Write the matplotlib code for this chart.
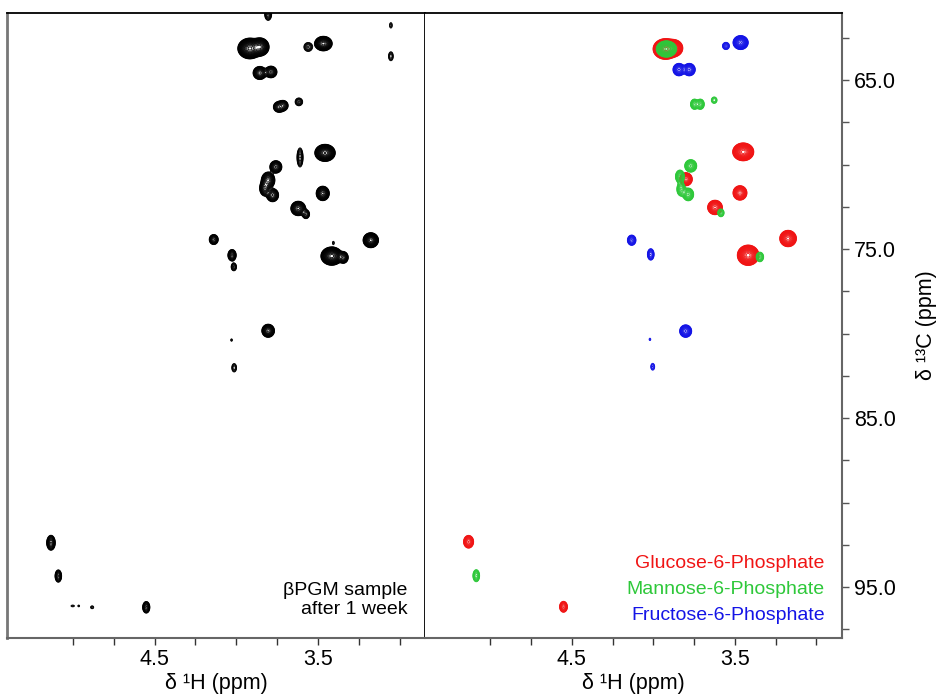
import numpy as np
import matplotlib
matplotlib.use("Agg")
import matplotlib.pyplot as plt

plt.rcParams['font.family'] = ['Liberation Sans', 'DejaVu Sans']

# ---------------- data: peak lists (1H ppm, 13C ppm, intensity, linewidths) ----------------
# Left panel: betaPGM sample after 1 week
sample_H = [3.805, 3.054, 3.054, 3.917, 3.856, 3.560, 3.467, 3.856, 3.788, 3.739, 3.713, 3.617,
            3.457, 3.610, 3.758, 3.805, 3.825, 3.778, 3.471, 3.621, 3.574, 4.138, 4.026, 4.015,
            3.406, 3.416, 3.345, 3.177, 3.805, 4.029, 4.013, 5.134, 5.089, 5.001, 4.964, 4.882, 4.551]
sample_C = [61.10, 61.75, 63.58, 63.12, 63.03, 63.03, 62.83, 64.57, 64.51, 66.58, 66.50, 66.28,
            69.30, 69.57, 70.13, 70.92, 71.39, 71.80, 71.70, 72.59, 72.93, 74.43, 75.36, 76.05,
            74.63, 75.41, 75.49, 74.47, 79.83, 80.38, 82.02, 92.38, 94.35, 96.12, 96.12, 96.20, 96.20]
sample_amp = [5, 1.8, 3, 120, 60, 4, 40, 20, 15, 10, 8, 4,
              90, 6, 15, 20, 15, 15, 25, 25, 6, 10, 10, 4,
              1.6, 100, 15, 50, 20, 1.5, 3, 12, 8, 1.5, 1.5, 1.8, 8]
sample_wH = [0.012, 0.008, 0.010, 0.024, 0.020, 0.016, 0.020, 0.017, 0.016, 0.016, 0.015, 0.014,
             0.021, 0.010, 0.016, 0.017, 0.014, 0.016, 0.016, 0.018, 0.012, 0.013, 0.012, 0.010,
             0.006, 0.022, 0.013, 0.017, 0.016, 0.006, 0.010, 0.012, 0.010, 0.012, 0.006, 0.009, 0.011]
sample_wC = [0.20, 0.15, 0.18, 0.20, 0.19, 0.16, 0.16, 0.16, 0.15, 0.15, 0.15, 0.14,
             0.17, 0.30, 0.16, 0.20, 0.20, 0.17, 0.17, 0.17, 0.14, 0.14, 0.16, 0.14,
             0.10, 0.18, 0.15, 0.16, 0.16, 0.08, 0.17, 0.20, 0.18, 0.06, 0.06, 0.08, 0.17]

# Right panel: reference compounds
g6p_H = [3.925, 3.875, 3.449, 3.800, 3.469, 3.622, 3.174, 3.419, 5.133, 4.551]
g6p_C = [63.15, 63.10, 69.24, 70.86, 71.67, 72.53, 74.37, 75.36, 92.32, 96.17]
g6p_amp = [120, 50, 80, 20, 25, 25, 40, 100, 12, 8]
g6p_wH = [0.025, 0.020, 0.022, 0.016, 0.017, 0.018, 0.019, 0.022, 0.014, 0.012]
g6p_wC = [0.20, 0.18, 0.18, 0.16, 0.17, 0.17, 0.18, 0.20, 0.17, 0.16]

m6p_H = [3.920, 3.748, 3.712, 3.627, 3.771, 3.837, 3.830, 3.786, 3.586, 3.347, 5.086]
m6p_C = [63.15, 66.42, 66.42, 66.18, 70.07, 70.70, 71.45, 71.76, 72.85, 75.46, 94.33]
m6p_amp = [60, 8, 8, 3, 15, 10, 8, 12, 4, 5, 6]
m6p_wH = [0.022, 0.012, 0.012, 0.012, 0.016, 0.013, 0.013, 0.015, 0.012, 0.013, 0.011]
m6p_wC = [0.17, 0.15, 0.15, 0.13, 0.16, 0.18, 0.20, 0.17, 0.14, 0.16, 0.19]

f6p_H = [3.465, 3.555, 3.843, 3.780, 4.133, 4.016, 3.802, 4.021, 4.004]
f6p_C = [62.77, 62.97, 64.37, 64.37, 74.47, 75.31, 79.85, 80.34, 81.96]
f6p_amp = [30, 4, 15, 15, 8, 6, 15, 1.5, 2.5]
f6p_wH = [0.018, 0.013, 0.016, 0.016, 0.013, 0.011, 0.016, 0.006, 0.009]
f6p_wC = [0.16, 0.13, 0.16, 0.16, 0.15, 0.18, 0.16, 0.08, 0.15]

compound_names = ["Glucose-6-Phosphate", "Mannose-6-Phosphate", "Fructose-6-Phosphate"]
compound_colors = ["#f01414", "#2ec83a", "#1414e6"]

h_ticks = [5.0, 4.75, 4.5, 4.25, 4.0, 3.75, 3.5, 3.25, 3.0]
h_labels = ["", "", "4.5", "", "", "", "3.5", "", ""]
c_ticks = [62.5, 65.0, 67.5, 70.0, 72.5, 75.0, 77.5, 80.0, 82.5, 85.0, 87.5, 90.0, 92.5, 95.0, 97.5]
c_labels = ["", "65.0", "", "", "", "75.0", "", "", "", "85.0", "", "", "", "95.0", ""]

H_LIM = (5.40, 2.845)
C_LIM = (98.0, 61.0)

# ---------------- spectrum synthesis ----------------
hg = np.linspace(2.80, 5.45, 1500)
cg = np.linspace(60.5, 98.5, 1400)


def spectrum(H, C, A, wH, wC):
    Z = np.zeros((cg.size, hg.size))
    for h, c, a, sh, sc in zip(H, C, A, wH, wC):
        gy = np.exp(-0.5 * ((cg - c) / sc) ** 2)
        gx = np.exp(-0.5 * ((hg - h) / sh) ** 2)
        Z += a * np.outer(gy, gx)
    return Z


levels = 1.0 * 1.25 ** np.arange(30)

fig = plt.figure(figsize=(9.36, 7.0), dpi=100)
bottom, height = 0.0890, 0.8929
axL = fig.add_axes([0.00801, bottom, 0.4461, height])
axR = fig.add_axes([0.4541, bottom, 0.4452, height])

axL.contour(hg, cg, spectrum(sample_H, sample_C, sample_amp, sample_wH, sample_wC),
            levels=levels, colors="black", linewidths=0.6)

series = [(g6p_H, g6p_C, g6p_amp, g6p_wH, g6p_wC),
          (m6p_H, m6p_C, m6p_amp, m6p_wH, m6p_wC),
          (f6p_H, f6p_C, f6p_amp, f6p_wH, f6p_wC)]
for (H, C, A, wH, wC), col in zip(series, compound_colors):
    axR.contour(hg, cg, spectrum(H, C, A, wH, wC), levels=levels, colors=col, linewidths=0.6)

for ax in (axL, axR):
    ax.set_xlim(*H_LIM)
    ax.set_ylim(*C_LIM)
    ax.set_xticks(h_ticks)
    ax.set_xticklabels(h_labels)
    ax.tick_params(axis="x", direction="out", length=5, width=1.0, color="#333333",
                   labelsize=15.5, pad=3)
    ax.set_xlabel("δ ¹H (ppm)", fontsize=15.5, labelpad=2)
    ax.spines["top"].set_color("black")
    ax.spines["top"].set_linewidth(1.3)
    ax.spines["bottom"].set_color("#666666")
    ax.spines["bottom"].set_linewidth(1.5)

axL.set_yticks([])
axL.spines["left"].set_color("#777777")
axL.spines["left"].set_linewidth(2.0)
axL.spines["right"].set_color("black")
axL.spines["right"].set_linewidth(1.3)

axR.spines["left"].set_visible(False)
axR.spines["right"].set_color("#666666")
axR.spines["right"].set_linewidth(1.5)
axR.yaxis.tick_right()
axR.yaxis.set_label_position("right")
axR.set_yticks(c_ticks)
axR.set_yticklabels(c_labels)
axR.tick_params(axis="y", direction="out", length=5, width=1.0, color="#555555",
                labelsize=15.5, pad=4)
axR.set_ylabel("δ ¹³C (ppm)", fontsize=15.5, labelpad=14)

axL.text(0.958, 0.061, "βPGM sample\nafter 1 week", transform=axL.transAxes,
         ha="right", va="center", fontsize=14, linespacing=1.15)

for i, (name, col) in enumerate(zip(compound_names, compound_colors)):
    axR.text(0.959, 0.1185 - i * 0.0415, name, transform=axR.transAxes,
             ha="right", va="center", fontsize=14, color=col)

fig.savefig("out.png", dpi=100)
